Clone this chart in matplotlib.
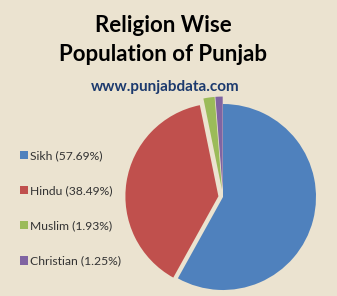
import matplotlib.pyplot as plt

religions = ['Sikh', 'Hindu', 'Muslim', 'Christian']
shares = [57.69, 38.49, 1.93, 1.25]
colors = ['#4f81bd', '#c0504d', '#9bbb59', '#8064a2']
explode = [0.0, 0.05, 0.08, 0.08]

bg = '#ebe3d0'
fig = plt.figure(figsize=(3.37, 2.96), dpi=100, facecolor=bg)

# pie axes: centre ~ (223, 197) px from top-left, radius ~93 px
r = 93
span = 1.2
w = 2 * span * r
ax = fig.add_axes([(223 - w / 2) / 337, (296 - 197 - w / 2) / 296, w / 337, w / 296])
ax.set_facecolor('none')
wedges, _ = ax.pie(shares, colors=colors, explode=explode, startangle=90,
                   counterclock=False, radius=1,
                   wedgeprops=dict(linewidth=0))
ax.set_xlim(-span, span)
ax.set_ylim(-span, span)
ax.set_aspect('equal')
ax.axis('off')

fig.text(163 / 337, 1 - 26 / 296, 'Religion Wise', ha='center', va='center',
         fontsize=16, fontweight='bold', family='Lato', color='black')
fig.text(163 / 337, 1 - 55 / 296, 'Population of Punjab', ha='center', va='center',
         fontsize=16, fontweight='bold', family='Lato', color='black')
fig.text(165 / 337, 1 - 87 / 296, 'www.punjabdata.com', ha='center', va='center',
         fontsize=11, fontweight='bold', family='Lato', color='#1c3a6e')

labels = [f'{n} ({v:.2f}%)' for n, v in zip(religions, shares)]
leg = fig.legend(wedges, labels, loc='upper left', bbox_to_anchor=(14 / 337, 1 - 144 / 296),
                 frameon=False, prop=dict(family='Lato', size=8.7),
                 handlelength=0.7, handleheight=0.7, handletextpad=0.15,
                 labelspacing=2.0, borderpad=0)
for t in leg.get_texts():
    t.set_color('#333333')

fig.savefig('out.png', dpi=100, facecolor=bg)
